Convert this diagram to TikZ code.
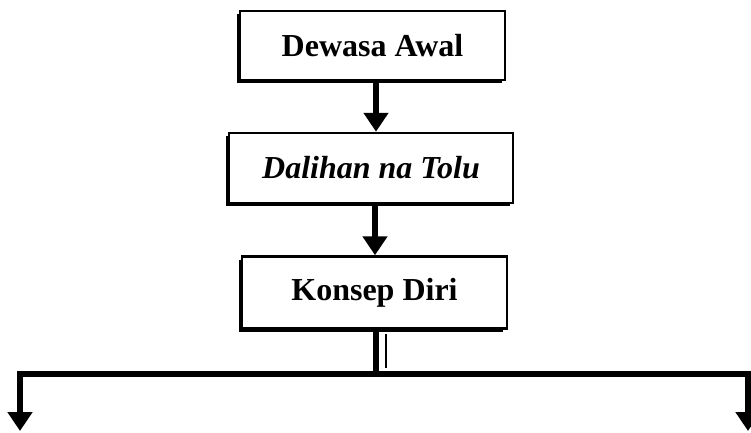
\documentclass[tikz,border=0pt]{standalone}
\usepackage{fontspec}
\setmainfont{Liberation Serif}
\usetikzlibrary{arrows.meta,calc}
\begin{document}
\begin{tikzpicture}[x=1pt,y=-1pt,
  boxstyle/.style={draw=black,line width=2.5pt,fill=white,inner sep=0pt,
    font=\fontsize{32}{36}\selectfont\bfseries,
    append after command={}},
  shadowbox/.style={fill=black},
  arr/.style={line width=6pt,-{Triangle[width=24pt,length=19pt]}},
  lin/.style={line width=6pt}]
\useasboundingbox (0,0) rectangle (751,432);
% shadows
\fill[black] (237,14) rectangle (502,83);
\fill[black] (226,136) rectangle (510,206);
\fill[black] (239,260) rectangle (503,332);
\node[boxstyle,minimum width=265pt,minimum height=69pt] (b1) at (372.5,45.5) {Dewasa Awal};
\node[boxstyle,minimum width=284pt,minimum height=70pt] (b2) at (371,168) {\itshape Dalihan na Tolu};
\node[boxstyle,minimum width=265pt,minimum height=72pt] (b3) at (374.5,292.5) {Konsep Diri};
\draw[arr] ([xshift=3.5pt]b1.south) -- ([xshift=3.5pt]b1.south |- b2.north);
\draw[arr] ([xshift=4pt]b2.south) -- ([xshift=4pt]b2.south |- b3.north);
\coordinate (j) at (376,374);
\coordinate (l) at (20,374);
\coordinate (r) at (748,374);
\coordinate (le) at (20,431);
\coordinate (re) at (748,431);
\draw[lin] ([xshift=1.5pt]b3.south) -- (j);
\draw[line width=1.2pt] (386,334) -- (386,368);
\draw[lin,line cap=rect] (l) -- (754,374);
\draw[arr] (l) -- (le);
\draw[arr] (r) -- (re);
\end{tikzpicture}
\end{document}
